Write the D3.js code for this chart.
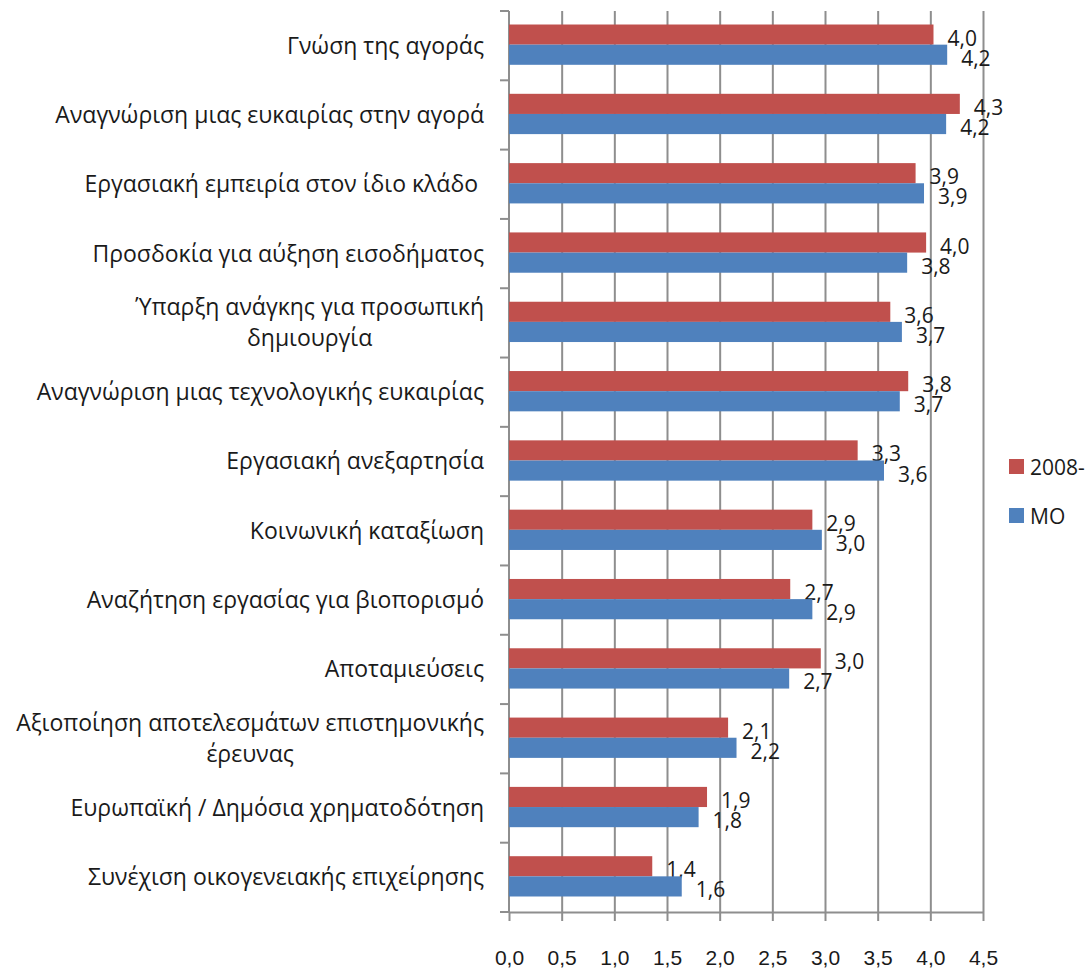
<!DOCTYPE html>
<html>
<head>
<meta charset="utf-8">
<script src="https://cdn.jsdelivr.net/npm/d3@7"></script>
<style>
  body { margin: 0; background: #fff; }
  svg { font-family: "Open Sans", sans-serif; }
  .grid line { stroke: #8e8e8e; stroke-width: 2px; }
  .grid path { display: none; }
  .axis path, .axis line { stroke: #8e8e8e; stroke-width: 2px; }
  .axis text { fill: #1a1a1a; font-size: 21px; }
  .cat { fill: #1a1a1a; font-size: 23px; white-space: pre; }
  .val { fill: #1a1a1a; font-size: 21px; }
  .legend text { fill: #1a1a1a; font-size: 21px; }
</style>
</head>
<body>
<div id="chart"></div>
<script>
// chart values
const categories = [
  ['Γνώση της αγοράς'],
  ['Αναγνώριση μιας ευκαιρίας στην αγορά'],
  ['Εργασιακή εμπειρία στον ίδιο κλάδο '],
  ['Προσδοκία για αύξηση εισοδήματος'],
  ['Ύπαρξη ανάγκης για προσωπική', 'δημιουργία'],
  ['Αναγνώριση μιας τεχνολογικής ευκαιρίας'],
  ['Εργασιακή ανεξαρτησία'],
  ['Κοινωνική καταξίωση'],
  ['Αναζήτηση εργασίας για βιοπορισμό'],
  ['Αποταμιεύσεις'],
  ['Αξιοποίηση αποτελεσμάτων επιστημονικής', 'έρευνας'],
  ['Ευρωπαϊκή / Δημόσια χρηματοδότηση'],
  ['Συνέχιση οικογενειακής επιχείρησης']
]
const seriesNames = ['2008-', 'ΜΟ']
const values2008 = [4.03, 4.28, 3.86, 3.96, 3.62, 3.79, 3.31, 2.88, 2.67, 2.96, 2.08, 1.88, 1.36]
const valuesMO = [4.16, 4.15, 3.94, 3.78, 3.73, 3.71, 3.56, 2.97, 2.88, 2.66, 2.16, 1.80, 1.64]
const xTicks = [0, 0.5, 1, 1.5, 2, 2.5, 3, 3.5, 4, 4.5]
const colors = ['#C0504D', '#4F81BD']

const width = 1087
const height = 969
const margin = { top: 11, right: 104, bottom: 57, left: 509 }

const svg = d3.select('#chart')
  .append('svg')
  .attr('width', width)
  .attr('height', height)

const x = d3.scaleLinear()
  .domain([0, 4.5])
  .range([margin.left, width - margin.right])

const y = d3.scaleBand()
  .domain(d3.range(categories.length))
  .range([margin.top, height - margin.bottom])
  .padding(0)

const ySub = d3.scaleBand()
  .domain(seriesNames)
  .range([0, y.bandwidth()])
  .paddingInner(0)
  .paddingOuter(0.72)

const fmt = v => d3.format('.1f')(v).replace('.', ',')

// vertical gridlines
svg.append('g')
  .attr('class', 'grid')
  .attr('transform', `translate(0,${margin.top})`)
  .call(d3.axisBottom(x).tickValues(xTicks.slice(1)).tickSize(height - margin.bottom - margin.top).tickFormat(''))

// bottom axis
svg.append('g')
  .attr('class', 'axis')
  .attr('transform', `translate(0,${height - margin.bottom})`)
  .call(d3.axisBottom(x).tickValues(xTicks).tickSize(9).tickSizeOuter(0).tickPadding(29).tickFormat(fmt))

// left axis line with ticks between categories
const leftAxis = svg.append('g').attr('class', 'axis')
leftAxis.append('line')
  .attr('x1', margin.left).attr('x2', margin.left)
  .attr('y1', margin.top).attr('y2', height - margin.bottom)
leftAxis.selectAll('line.tk')
  .data(d3.range(categories.length + 1))
  .join('line')
  .attr('class', 'tk')
  .attr('x1', margin.left - 9).attr('x2', margin.left)
  .attr('y1', i => margin.top + i * y.step())
  .attr('y2', i => margin.top + i * y.step())

const series = [values2008, valuesMO]
const rows = svg.append('g').selectAll('g')
  .data(categories.map((c, i) => i))
  .join('g')
  .attr('transform', i => `translate(0,${y(i)})`)

series.forEach((vals, s) => {
  rows.append('rect')
    .attr('x', x(0))
    .attr('y', ySub(seriesNames[s]) - 1)
    .attr('width', i => x(vals[i]) - x(0))
    .attr('height', ySub.bandwidth())
    .attr('fill', colors[s])
  rows.append('text')
    .attr('class', 'val')
    .attr('x', i => x(vals[i]) + 14)
    .attr('y', ySub(seriesNames[s]) + ySub.bandwidth() / 2 + 2)
    .attr('dominant-baseline', 'central')
    .text(i => fmt(vals[i]))
})

// category labels, wrapped lines centred within a right-aligned block
const labelRight = margin.left - 25
rows.each(function (i) {
  const lines = categories[i]
  const g = d3.select(this)
  const lineH = 31
  const texts = lines.map((ln, k) => g.append('text')
    .attr('class', 'cat')
    .attr('y', y.bandwidth() / 2 - 1 + (k - (lines.length - 1) / 2) * lineH)
    .attr('dominant-baseline', 'central')
    .text(ln))
  const maxW = d3.max(texts, t => t.node().getComputedTextLength())
  texts.forEach(t => t.attr('text-anchor', 'middle').attr('x', labelRight - maxW / 2))
})

// legend
const legend = svg.append('g').attr('class', 'legend')
seriesNames.forEach((name, s) => {
  const ly = 459 + s * 49
  legend.append('rect')
    .attr('x', 1009).attr('y', ly)
    .attr('width', 15).attr('height', 15)
    .attr('fill', colors[s])
  legend.append('text')
    .attr('x', 1030).attr('y', ly + 8)
    .attr('dominant-baseline', 'central')
    .text(name)
})
</script>
</body>
</html>
